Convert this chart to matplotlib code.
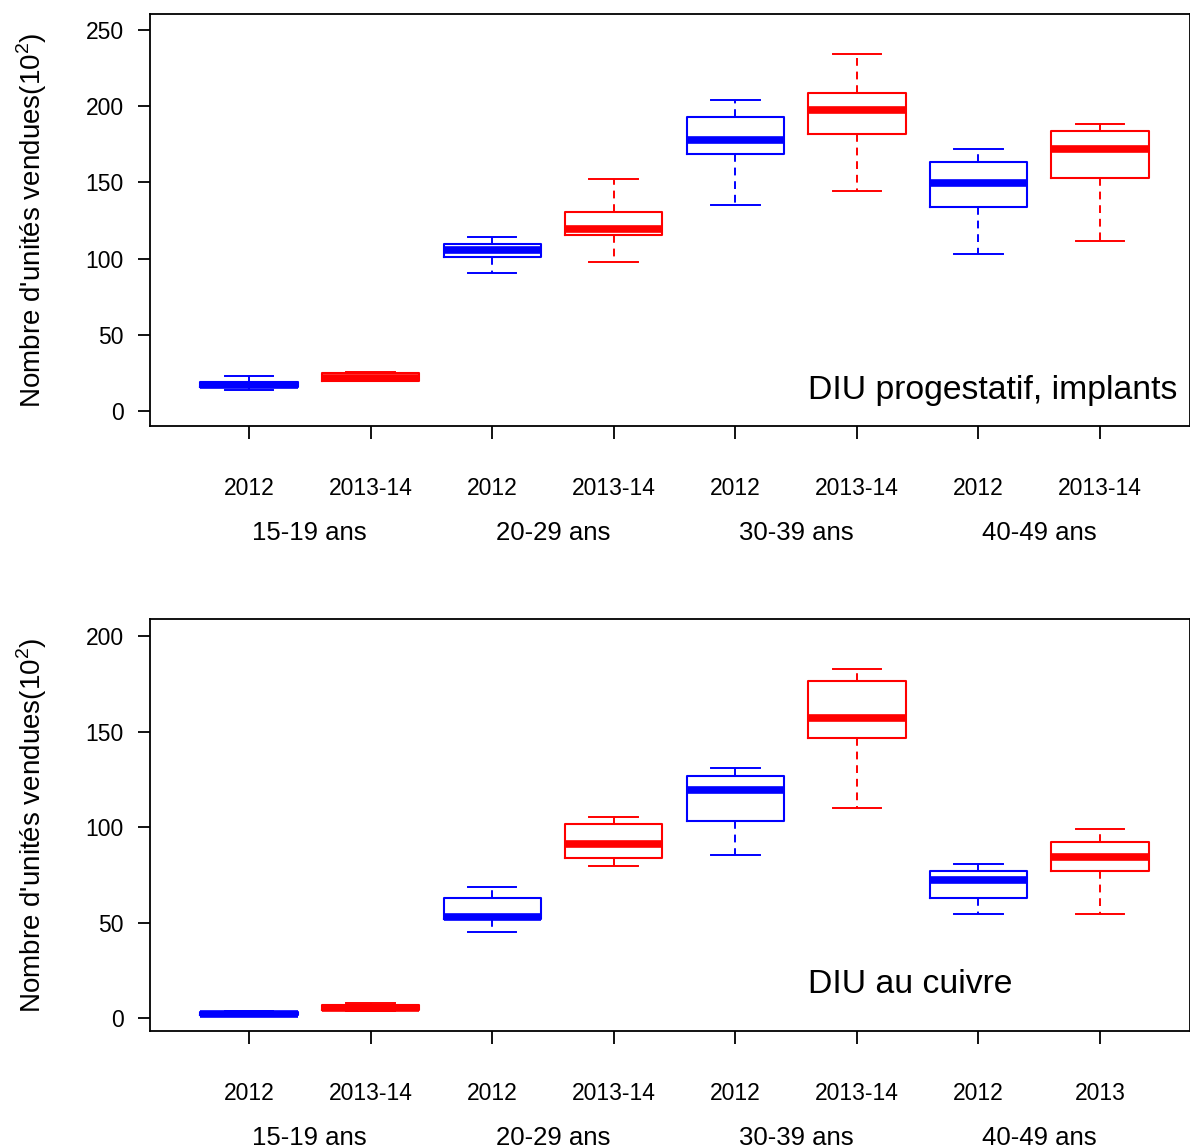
import numpy as np
import matplotlib
matplotlib.use("Agg")
import matplotlib.pyplot as plt

plt.rcParams['font.family'] = ['Liberation Sans', 'DejaVu Sans']
plt.rcParams['mathtext.fontset'] = 'custom'
plt.rcParams['mathtext.rm'] = 'Liberation Sans'

# Données (unités x 100)
groups = ["15-19 ans", "20-29 ans", "30-39 ans", "40-49 ans"]
years_top = ["2012", "2013-14", "2012", "2013-14", "2012", "2013-14", "2012", "2013-14"]
years_bottom = ["2012", "2013-14", "2012", "2013-14", "2012", "2013-14", "2012", "2013"]
box_colors = ["blue", "red", "blue", "red", "blue", "red", "blue", "red"]

prog_whislo = [13.8, 19.5, 90.3, 97.6, 135.4, 144.6, 103.2, 111.5]
prog_q1 = [15.5, 20.0, 101.2, 115.3, 168.4, 181.5, 134.1, 152.9]
prog_med = [17.0, 22.0, 105.6, 119.4, 177.8, 197.8, 149.4, 171.9]
prog_q3 = [19.0, 25.0, 109.3, 130.4, 192.9, 208.7, 163.4, 183.5]
prog_whishi = [23.0, 25.5, 113.9, 152.0, 203.9, 234.5, 171.9, 188.3]

cuivre_whislo = [1.0, 3.5, 44.9, 79.7, 85.5, 110.1, 54.3, 54.5]
cuivre_q1 = [1.5, 4.0, 51.7, 83.6, 103.3, 146.8, 62.8, 77.0]
cuivre_med = [2.3, 5.4, 53.1, 91.1, 119.4, 157.1, 72.3, 84.5]
cuivre_q3 = [3.3, 7.0, 62.8, 101.4, 126.7, 176.6, 77.0, 92.0]
cuivre_whishi = [3.8, 8.0, 68.4, 105.4, 130.7, 182.6, 80.8, 98.8]


def make_stats(whislo, q1, med, q3, whishi):
    return [dict(whislo=a, q1=b, med=c, q3=d, whishi=e, fliers=[])
            for a, b, c, d, e in zip(whislo, q1, med, q3, whishi)]


def draw_panel(ax, stats, years, title, ylim, yticks, title_y):
    positions = np.arange(1, len(stats) + 1)
    for pos, st, col in zip(positions, stats, box_colors):
        ax.bxp([st], positions=[pos], widths=0.8, showfliers=False,
               boxprops=dict(color=col, linewidth=1.5),
               medianprops=dict(color=col, linewidth=5.5, solid_capstyle='butt'),
               whiskerprops=dict(color=col, linewidth=1.4, linestyle=(0, (4, 3))),
               capprops=dict(color=col, linewidth=1.4),
               capwidths=0.4)
    ax.set_xlim(0.186, 8.74)
    ax.set_ylim(*ylim)
    ax.set_yticks(yticks)
    ax.set_xticks(positions)
    ax.set_xticklabels(years, fontsize=16.5)
    ax.tick_params(axis='x', length=9, width=1.3, pad=28)
    ax.tick_params(axis='y', length=9, width=1.3, pad=10, labelsize=16.5)
    for sp in ax.spines.values():
        sp.set_linewidth(1.3)
    for i, g in enumerate(groups):
        ax.annotate(g, xy=(2 * i + 1.5, 0), xycoords=('data', 'axes fraction'),
                    xytext=(0, -77), textcoords='offset points',
                    ha='center', va='center', fontsize=18.5)
    ax.set_ylabel("Nombre d'unités vendues(10$^{\\mathregular{2}}$)", fontsize=20)
    ax.yaxis.set_label_coords(-0.097, 0.5)
    ax.text(5.598, title_y, title, fontsize=24.3, ha='left', va='center')


fig = plt.figure(figsize=(11.9, 11.48), dpi=100)
ax1 = fig.add_axes([0.1261, 0.6289, 0.8739, 0.3589])
ax2 = fig.add_axes([0.1261, 0.1019, 0.8739, 0.3589])

draw_panel(ax1, make_stats(prog_whislo, prog_q1, prog_med, prog_q3, prog_whishi),
           years_top, "DIU progestatif, implants", (-9.8, 260.5),
           [0, 50, 100, 150, 200, 250], 13.8)
draw_panel(ax2, make_stats(cuivre_whislo, cuivre_q1, cuivre_med, cuivre_q3, cuivre_whishi),
           years_bottom, "DIU au cuivre", (-6.8, 208.9),
           [0, 50, 100, 150, 200], 17.3)

fig.savefig("out.png", dpi=100)
